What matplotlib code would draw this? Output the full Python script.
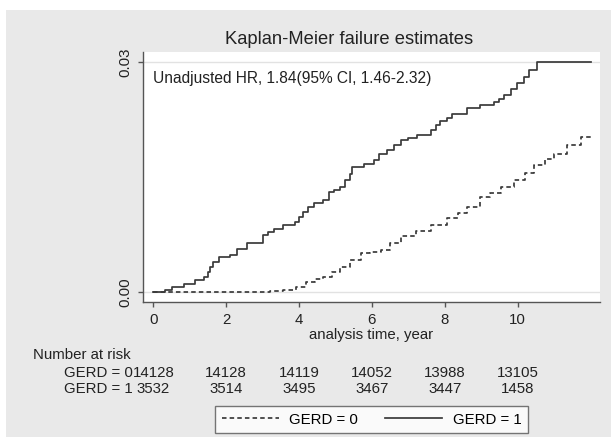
import matplotlib
matplotlib.use('Agg')
import matplotlib.pyplot as plt
from matplotlib.patches import Rectangle
from matplotlib.transforms import blended_transform_factory

plt.rcParams['font.family'] = ['Liberation Sans', 'DejaVu Sans']

# KM failure estimates (step functions)
t_gerd1 = [0, 0.32, 0.5, 0.83, 1.15, 1.38, 1.5, 1.56, 1.65, 1.79, 2.1, 2.29, 2.57, 2.89,
           3.02, 3.15, 3.3, 3.57, 3.89, 4.0, 4.12, 4.25, 4.4, 4.67, 4.81, 4.95, 5.13,
           5.27, 5.4, 5.46, 5.78, 6.05, 6.2, 6.42, 6.6, 6.79, 7.0, 7.24, 7.61, 7.75,
           7.88, 8.05, 8.2, 8.61, 8.98, 9.35, 9.5, 9.62, 9.81, 9.99, 10.17, 10.31, 10.54, 12.0]
f_gerd1 = [0, 0.0003, 0.0007, 0.0011, 0.0016, 0.002, 0.0026, 0.0033, 0.004, 0.0046, 0.0049,
           0.0057, 0.0064, 0.0064, 0.0075, 0.0079, 0.0083, 0.0088, 0.0092, 0.0098, 0.0105,
           0.0111, 0.0116, 0.012, 0.0131, 0.0133, 0.0138, 0.0146, 0.0155, 0.0164, 0.0168,
           0.0173, 0.018, 0.0186, 0.0192, 0.0199, 0.0202, 0.0205, 0.0212, 0.0218, 0.0223,
           0.0228, 0.0233, 0.024, 0.0244, 0.0249, 0.0252, 0.0257, 0.0266, 0.0273, 0.0281,
           0.029, 0.03, 0.03]

t_gerd0 = [0, 2.75, 3.2, 3.57, 3.93, 4.2, 4.45, 4.67, 4.9, 5.13, 5.4, 5.69, 5.95, 6.24, 6.5,
           6.79, 7.2, 7.61, 8.07, 8.35, 8.61, 8.98, 9.25, 9.53, 9.9, 10.2, 10.45, 10.75,
           11.0, 11.35, 11.73, 12.0]
f_gerd0 = [0, 0.00005, 0.0002, 0.0003, 0.00065, 0.0014, 0.0017, 0.002, 0.0027, 0.0033,
           0.0042, 0.0051, 0.0053, 0.0055, 0.0064, 0.0073, 0.008, 0.0088, 0.0097, 0.0104,
           0.0112, 0.0125, 0.013, 0.0138, 0.0146, 0.0156, 0.0166, 0.0174, 0.0181, 0.0192,
           0.0203, 0.02]

# number at risk table
risk_times = [0, 2, 4, 6, 8, 10]
risk_gerd0 = [14128, 14128, 14119, 14052, 13988, 13105]
risk_gerd1 = [3532, 3514, 3495, 3467, 3447, 1458]

W, H = 611, 448
fig = plt.figure(figsize=(W / 100, H / 100), dpi=100, facecolor='white')
bg = Rectangle((6 / W, 1 - 437 / H), 1 - 6 / W, (437 - 10) / H,
               transform=fig.transFigure, facecolor='#e9e9e9', edgecolor='none', zorder=-10)
fig.patches.append(bg)

ax = fig.add_axes([142.7 / W, 1 - 302.3 / H, (600 - 142.7) / W, (302.3 - 52.5) / H])
ax.set_zorder(1)
ax.set_facecolor('white')
ax.set_xlim(-0.291, 12.26)
ax.set_ylim(-0.0013, 0.0313)

line_col = '#3a3a3a'
for yv in [0, 0.03]:
    ax.axhline(yv, color='#e2e2e2', lw=1, zorder=1)

l0, = ax.step(t_gerd0, f_gerd0, where='post', color=line_col, lw=1.25, label='GERD = 0')
l0.set_dashes((2.6, 1.8))
l1, = ax.step(t_gerd1, f_gerd1, where='post', color=line_col, lw=1.25, label='GERD = 1')

for s in ['top', 'right']:
    ax.spines[s].set_visible(False)
for s in ['left', 'bottom']:
    ax.spines[s].set_color('#555555')
    ax.spines[s].set_linewidth(1)

ax.set_xticks(risk_times)
ax.set_yticks([0, 0.03])
ax.set_yticklabels(['0.00', '0.03'], rotation=90, va='center')
ax.tick_params(axis='both', colors='#555555', labelcolor='#222222', labelsize=10.8,
               length=3.5, width=1)
ax.tick_params(axis='x', pad=4)
ax.tick_params(axis='y', pad=4)

fs = 10.8
fig.text(349.5 / W, 1 - 40 / H, 'Kaplan-Meier failure estimates', ha='center', va='center',
         fontsize=13.2, color='#222222')
fig.text(153.3 / W, 1 - 78.3 / H, 'Unadjusted HR, 1.84(95% CI, 1.46-2.32)', ha='left',
         va='center', fontsize=11.2, color='#222222', zorder=5)
fig.text(371.5 / W, 1 - 335 / H, 'analysis time, year', ha='center', va='center',
         fontsize=fs, color='#222222')

# number at risk
fig.text(33 / W, 1 - 355 / H, 'Number at risk', ha='left', va='center', fontsize=fs,
         color='#222222')
fig.text(133 / W, 1 - 373 / H, 'GERD = 0', ha='right', va='center', fontsize=fs, color='#222222')
fig.text(133 / W, 1 - 389 / H, 'GERD = 1', ha='right', va='center', fontsize=fs, color='#222222')
tr = blended_transform_factory(ax.transData, fig.transFigure)
for tt, n0, n1 in zip(risk_times, risk_gerd0, risk_gerd1):
    ax.text(tt, 1 - 373 / H, str(n0), transform=tr, ha='center', va='center',
            fontsize=fs, color='#222222', clip_on=False)
    ax.text(tt, 1 - 389 / H, str(n1), transform=tr, ha='center', va='center',
            fontsize=fs, color='#222222', clip_on=False)

leg = fig.legend(handles=[l0, l1], loc='center', bbox_to_anchor=(371.8 / W, 1 - 419.5 / H),
                 ncol=2, fontsize=fs, frameon=True, fancybox=False, edgecolor='#555555',
                 handlelength=3.8, handletextpad=0.7, columnspacing=1.8, borderpad=0.45,
                 borderaxespad=0)
leg.get_frame().set_linewidth(1)
leg.get_frame().set_facecolor('white')

fig.savefig('out.png', dpi=100, facecolor='white')
